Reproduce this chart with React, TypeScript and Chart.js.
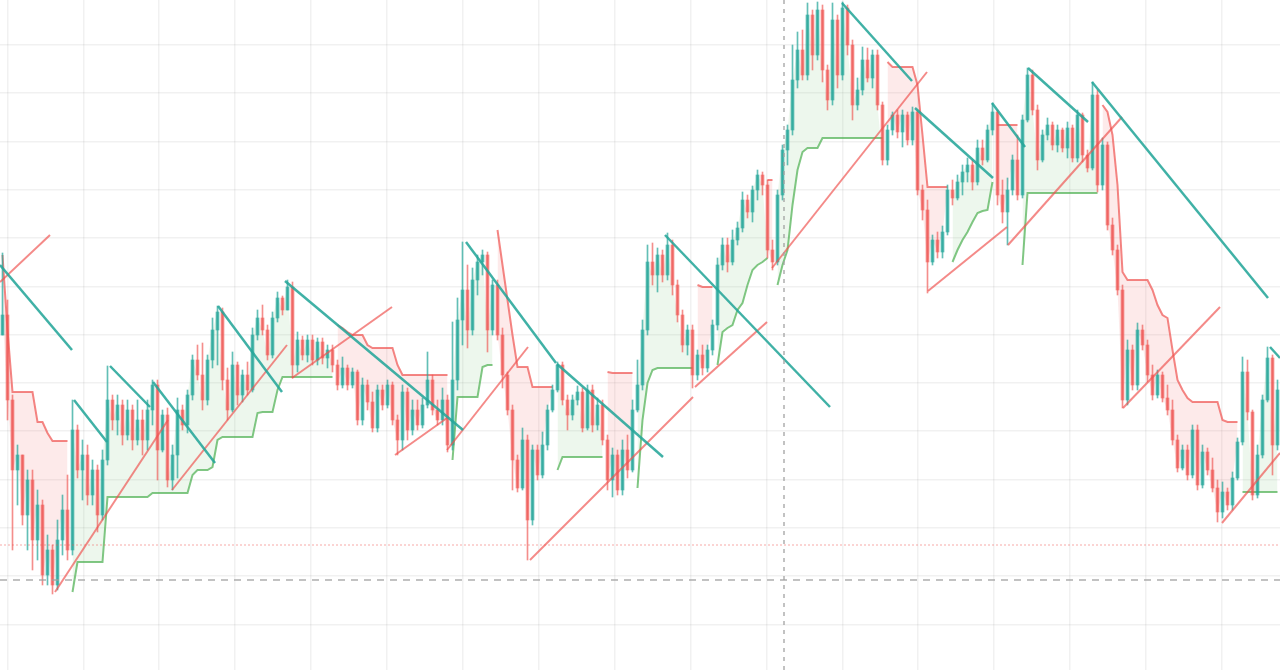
import { useEffect, useRef } from 'react';
import { Chart, registerables } from 'chart.js';

Chart.register(...registerables);

// ---- price data (one candle per index) ----
const firstOpen = 335;

const close = [
  355, 270, 200, 215, 155, 190, 130, 165, 95, 120,
  85, 130, 160, 120, 240, 200, 215, 175, 200, 155,
  210, 270, 250, 265, 235, 260, 230, 250, 230, 260,
  285, 220, 255, 190, 215, 260, 245, 275, 310, 295,
  270, 310, 340, 358, 290, 260, 305, 275, 295, 280,
  335, 352, 340, 315, 352, 372, 360, 383, 305, 330,
  315, 330, 310, 328, 312, 320, 305, 285, 302, 285,
  298, 250, 285, 268, 242, 280, 265, 285, 250, 230,
  278, 240, 260, 245, 265, 290, 260, 250, 270, 225,
  290, 350, 380, 340, 390, 408, 415, 340, 385, 335,
  295, 260, 210, 182, 230, 150, 220, 195, 225, 260,
  280, 305, 270, 255, 270, 278, 242, 280, 245, 265,
  230, 190, 215, 180, 220, 200, 260, 285, 340, 408,
  395, 415, 395, 425, 385, 355, 325, 340, 295, 315,
  302, 320, 345, 405, 425, 408, 430, 442, 470, 458,
  480, 495, 485, 420, 408, 475, 520, 540, 590, 620,
  595, 655, 615, 660, 600, 570, 650, 595, 662, 625,
  565, 580, 610, 592, 615, 565, 510, 540, 555, 538,
  555, 530, 558, 480, 460, 408, 430, 418, 438, 480,
  472, 488, 498, 505, 488, 522, 510, 540, 558, 475,
  458, 480, 510, 475, 550, 595, 560, 510, 535, 545,
  525, 540, 522, 542, 512, 555, 515, 502, 575, 485,
  525, 445, 420, 380, 270, 320, 285, 340, 325, 295,
  275, 295, 272, 260, 230, 202, 220, 195, 240, 185,
  218, 200, 182, 158, 178, 165, 192, 228, 298, 258,
  175, 215, 270, 312, 225, 280,
];

const high = [
  417, 370, 275, 225, 215, 200, 200, 180, 170, 135,
  125, 150, 175, 195, 270, 245, 230, 225, 210, 205,
  220, 304, 275, 275, 270, 270, 265, 270, 260, 270,
  290, 290, 260, 262, 225, 272, 265, 280, 315, 325,
  327, 315, 352, 364, 362, 302, 318, 308, 300, 308,
  342, 360, 365, 345, 358, 378, 374, 390, 388, 338,
  334, 335, 335, 332, 332, 325, 325, 310, 313, 305,
  302, 300, 292, 290, 278, 285, 285, 290, 288, 255,
  285, 282, 270, 270, 272, 318, 295, 270, 282, 275,
  348, 372, 428, 405, 402, 415, 420, 418, 390, 390,
  342, 298, 265, 215, 242, 235, 225, 225, 238, 265,
  285, 308, 308, 275, 275, 284, 282, 285, 285, 272,
  270, 235, 222, 220, 230, 235, 270, 310, 350, 425,
  427, 422, 420, 437, 430, 390, 360, 345, 345, 320,
  325, 325, 350, 412, 432, 432, 440, 448, 478, 475,
  484, 500, 498, 490, 430, 480, 525, 545, 625, 638,
  640, 667, 660, 668, 665, 605, 667, 655, 668, 665,
  630, 592, 623, 622, 620, 620, 568, 545, 558, 560,
  560, 558, 563, 560, 485, 470, 435, 438, 444, 485,
  490, 495, 505, 512, 510, 530, 530, 545, 567, 560,
  490, 492, 515, 535, 555, 602, 600, 565, 540, 552,
  548, 545, 542, 548, 545, 560, 557, 520, 588, 580,
  532, 528, 452, 425, 385, 330, 325, 347, 345, 330,
  305, 300, 298, 285, 270, 235, 225, 225, 245, 245,
  225, 222, 212, 190, 188, 182, 198, 232, 313, 310,
  260, 225, 275, 323, 315, 290,
];

const low = [
  335, 250, 120, 165, 145, 120, 100, 110, 85, 85,
  76, 80, 115, 110, 115, 192, 170, 165, 165, 138,
  150, 205, 240, 235, 225, 230, 220, 225, 215, 220,
  245, 190, 218, 183, 180, 192, 240, 237, 270, 290,
  260, 265, 302, 305, 280, 250, 258, 265, 268, 275,
  278, 330, 335, 310, 312, 348, 355, 360, 292, 298,
  310, 308, 305, 305, 306, 302, 298, 280, 282, 280,
  282, 245, 245, 260, 238, 238, 260, 262, 245, 215,
  220, 230, 235, 240, 242, 262, 255, 245, 245, 218,
  220, 280, 325, 322, 335, 375, 395, 318, 335, 330,
  282, 255, 180, 178, 180, 110, 145, 190, 192, 220,
  258, 278, 265, 240, 250, 265, 238, 240, 238, 240,
  225, 180, 173, 175, 175, 192, 198, 258, 280, 335,
  385, 378, 388, 390, 375, 348, 318, 315, 282, 290,
  295, 298, 315, 340, 400, 398, 405, 425, 438, 452,
  448, 470, 475, 412, 400, 405, 470, 505, 535, 582,
  590, 590, 600, 610, 588, 560, 565, 582, 590, 615,
  550, 560, 575, 588, 582, 560, 505, 505, 535, 532,
  523, 525, 525, 475, 450, 377, 405, 412, 412, 435,
  465, 470, 475, 488, 480, 485, 505, 508, 535, 465,
  447, 425, 475, 470, 472, 548, 555, 500, 508, 530,
  520, 518, 518, 512, 508, 508, 508, 498, 500, 478,
  480, 440, 415, 375, 262, 265, 280, 280, 320, 288,
  270, 272, 268, 255, 225, 198, 200, 190, 192, 180,
  182, 195, 178, 148, 152, 160, 160, 190, 225, 250,
  170, 172, 212, 268, 195, 220,
];

// ---- trailing stop runs: [first candle index, values...] ----
const stopDownRuns: [number, number[]][] = [
  [0, [415, 340, 278, 278, 278, 278, 278, 248, 248, 237, 229, 229, 229, 229]],
  [67, [345, 342, 338, 335, 335, 335, 325, 322, 322, 322, 322, 322, 305, 295, 295, 295, 295, 295, 295, 295, 295, 295, 295]],
  [99, [440, 405, 370, 335, 303, 303, 303, 283, 283, 283, 283, 283]],
  [121, [298, 297, 297, 297, 297, 297]],
  [139, [385, 383, 383, 383]],
  [153, [490, 490]],
  [177, [608, 603, 603, 603, 603, 603, 585, 535, 483, 483, 483, 483, 483]],
  [199, [545, 545, 545, 545, 545]],
  [220, [565, 558, 535, 485, 398, 390, 390, 390, 390, 390, 380, 365, 355, 352, 320, 290, 280, 272, 268, 268, 268, 268, 268, 268, 250, 248, 248, 248]],
];

const stopUpRuns: [number, number[]][] = [
  [14, [78, 108, 108, 108, 108, 108, 108,
    173, 173, 173, 173, 173, 173, 173, 173, 173,
    177, 177, 177, 177, 177, 177, 177, 177,
    195, 200, 200, 200, 203, 230,
    233, 233, 233, 233, 233, 233, 233,
    257, 258, 258, 258, 280,
    293, 293, 293, 293, 293, 293, 293, 293, 293, 293, 293]],
  [90, [210, 273, 273, 273, 273, 273, 303, 305, 305]],
  [111, [200, 213, 213, 213, 213, 213, 213, 213, 213, 213]],
  [127, [182, 250, 287, 300, 302, 302, 302, 302, 302, 302, 302, 302]],
  [143, [305, 338, 342, 345, 360, 367, 385, 400, 405, 408, 412]],
  [155, [385, 405, 420, 465, 500, 518, 522, 522, 522, 532, 532, 532, 532, 532, 532, 532, 532, 532, 532, 532, 532, 532]],
  [190, [408, 420, 430, 438, 448, 457, 459, 460, 488]],
  [204, [405, 477, 477, 477, 477, 477, 477, 477, 477, 477, 477, 477, 477, 477, 477, 477]],
  [248, [178, 178, 178, 178, 178, 178, 178, 178]],
];

// ---- trend lines: [x1, y1, x2, y2] in candle index / price ----
const fallingLines = [
  [-0.5, 405, 13.9, 320],
  [14.3, 270, 20.9, 228],
  [21.5, 304, 29.5, 263],
  [30.1, 288, 42.5, 207],
  [43.1, 364, 55.9, 278],
  [56.5, 389, 92.1, 240],
  [92.7, 428, 110.7, 307],
  [110.9, 306, 132.1, 213],
  [132.5, 435, 165.5, 263],
  [167.9, 667, 181.9, 589],
  [182.5, 562, 198.1, 492],
  [197.9, 567, 204.5, 523],
  [205.1, 602, 217.1, 548],
  [217.9, 588, 253.1, 372],
  [253.5, 323, 255.5, 312],
];

const risingLines = [
  [-0.5, 388, 9.5, 435],
  [10.5, 78, 33.1, 250],
  [33.9, 180, 56.9, 325],
  [57.9, 292, 77.9, 363],
  [78.5, 215, 88.9, 252],
  [88.9, 220, 105.1, 323],
  [105.5, 110, 138.1, 273],
  [138.5, 283, 152.9, 348],
  [153.9, 402, 184.9, 598],
  [185.1, 379, 200.9, 443],
  [201.1, 425, 223.9, 553],
  [224.1, 262, 243.5, 363],
  [243.9, 147, 255.5, 217],
];

const gridX = [0.98, 16.16, 31.34, 46.52, 61.7, 76.88, 92.06, 107.24, 122.42, 137.6, 152.78, 167.96, 183.14, 198.32, 213.5, 228.68, 243.86];
const gridY = [45, 94, 142, 190, 239, 287, 335, 383, 432, 480, 528, 577, 625];

const crossX = 156.3;
const crossY = 90;
const lastLevel = 125;
const priceMin = 0;
const priceMax = 670;

const TEAL = 'rgba(38,166,154,0.72)';
const RED = 'rgba(239,83,80,0.66)';

function expandRuns(runs: [number, number[]][], n: number) {
  const out: (number | null)[] = new Array(n).fill(null);
  runs.forEach(([start, vals]) => vals.forEach((v, k) => { out[start + k] = v; }));
  return out;
}

export default function App() {
  const ref = useRef<HTMLCanvasElement | null>(null);

  useEffect(() => {
    if (!ref.current) return;
    const n = close.length;
    const open = close.map((_, i) => (i === 0 ? firstOpen : close[i - 1]));
    const up = close.map((c, i) => c >= open[i]);
    const colors = up.map((u) => (u ? TEAL : RED));
    const stopDown = expandRuns(stopDownRuns, n);
    const stopUp = expandRuns(stopUpRuns, n);
    const xMin = -0.5;
    const xMax = n - 0.5;

    const datasets: any[] = [];
    // 0: close path (fill target, not stroked)
    datasets.push({
      type: 'line',
      data: close.map((c, i) => ({ x: i, y: c })),
      borderColor: 'rgba(0,0,0,0)',
      borderWidth: 0,
      pointRadius: 0,
      fill: false,
      order: 6,
    });
    datasets.push({
      type: 'line',
      data: stopDown.map((v, i) => ({ x: i, y: v })),
      borderColor: 'rgba(239,83,80,0.7)',
      borderWidth: 2,
      pointRadius: 0,
      spanGaps: false,
      fill: { target: 0, above: 'rgba(239,83,80,0.12)', below: 'rgba(239,83,80,0.12)' },
      order: 5,
    });
    datasets.push({
      type: 'line',
      data: stopUp.map((v, i) => ({ x: i, y: v })),
      borderColor: 'rgba(76,175,80,0.7)',
      borderWidth: 2,
      pointRadius: 0,
      spanGaps: false,
      fill: { target: 0, above: 'rgba(76,175,80,0.1)', below: 'rgba(76,175,80,0.1)' },
      order: 5,
    });
    // wicks
    datasets.push({
      type: 'bar',
      data: close.map((_, i) => ({ x: i, y: [low[i], high[i]] })),
      backgroundColor: colors,
      barThickness: 1,
      grouped: false,
      order: 4,
    });
    // bodies
    datasets.push({
      type: 'bar',
      data: close.map((c, i) => ({ x: i, y: [open[i], c] })),
      backgroundColor: colors,
      barThickness: 3,
      grouped: false,
      order: 3,
    });
    fallingLines.forEach((l) => {
      datasets.push({
        type: 'line',
        data: [{ x: l[0], y: l[1] }, { x: l[2], y: l[3] }],
        borderColor: 'rgba(38,166,154,0.88)',
        borderWidth: 2.5,
        pointRadius: 0,
        fill: false,
        order: 2,
      });
    });
    risingLines.forEach((l) => {
      datasets.push({
        type: 'line',
        data: [{ x: l[0], y: l[1] }, { x: l[2], y: l[3] }],
        borderColor: 'rgba(239,83,80,0.68)',
        borderWidth: 2,
        pointRadius: 0,
        fill: false,
        order: 2,
      });
    });
    datasets.push({
      type: 'line',
      data: [{ x: xMin, y: lastLevel }, { x: xMax, y: lastLevel }],
      borderColor: 'rgba(239,83,80,0.5)',
      borderWidth: 1,
      borderDash: [2, 2],
      pointRadius: 0,
      fill: false,
      order: 1,
    });
    datasets.push({
      type: 'line',
      data: [{ x: xMin, y: crossY }, { x: xMax, y: crossY }],
      borderColor: 'rgba(160,160,160,0.85)',
      borderWidth: 1.5,
      borderDash: [7, 6],
      pointRadius: 0,
      fill: false,
      order: 0,
    });
    datasets.push({
      type: 'line',
      data: [{ x: crossX, y: priceMin }, { x: crossX, y: priceMax }],
      borderColor: 'rgba(160,160,160,0.85)',
      borderWidth: 1.5,
      borderDash: [4, 5],
      pointRadius: 0,
      fill: false,
      order: 0,
    });

    const chart = new Chart(ref.current, {
      type: 'line',
      data: { datasets },
      options: {
        animation: false,
        responsive: true,
        maintainAspectRatio: false,
        events: [],
        layout: { padding: 0 },
        plugins: { legend: { display: false }, tooltip: { enabled: false } },
        scales: {
          x: {
            type: 'linear',
            min: xMin,
            max: xMax,
            offset: false,
            border: { display: false },
            grid: { color: 'rgba(0,0,0,0.055)', lineWidth: 1.5, drawTicks: false, offset: false },
            ticks: { display: false },
            afterBuildTicks: (axis: any) => { axis.ticks = gridX.map((v) => ({ value: v })); },
          },
          y: {
            type: 'linear',
            min: priceMin,
            max: priceMax,
            border: { display: false },
            grid: { color: 'rgba(0,0,0,0.055)', lineWidth: 1.5, drawTicks: false },
            ticks: { display: false },
            afterBuildTicks: (axis: any) => { axis.ticks = gridY.map((v) => ({ value: v })); },
          },
        },
      } as any,
    });
    return () => chart.destroy();
  }, []);

  return (
    <div style={{ position: 'fixed', left: 0, top: 0, width: '100vw', height: '100vh', background: '#fff' }}>
      <canvas ref={ref} />
    </div>
  );
}
